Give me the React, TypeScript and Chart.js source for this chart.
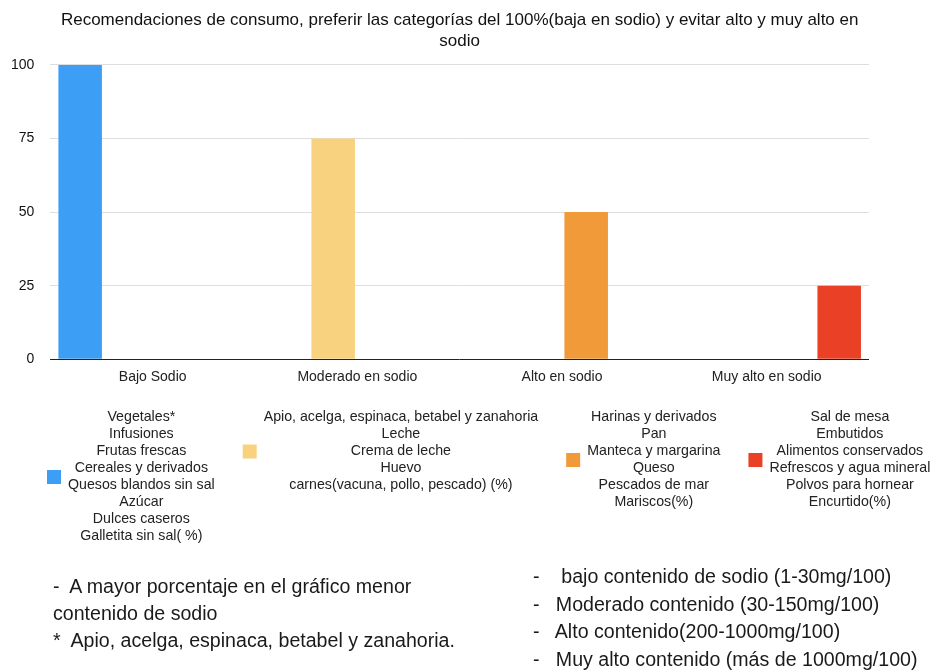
import React, { useEffect, useRef } from 'react';
import { Chart, registerables } from 'chart.js';

Chart.register(...registerables);

const FONT = '"Liberation Sans", Arial, Helvetica, sans-serif';

const TITLE = [
  'Recomendaciones de consumo, preferir las categorías del 100%(baja en sodio) y evitar alto y muy alto en',
  'sodio',
];
const CATEGORIES = ['Bajo Sodio', 'Moderado en sodio', 'Alto en sodio', 'Muy alto en sodio'];
const Y_TICKS = [0, 25, 50, 75, 100];

const BAJO = [100, null, null, null];
const MODERADO = [null, 75, null, null];
const ALTO = [null, null, 50, null];
const MUY_ALTO = [null, null, null, 25];

const LEGEND_BAJO = [
  'Vegetales*',
  'Infusiones',
  'Frutas frescas',
  'Cereales y derivados',
  'Quesos blandos sin sal',
  'Azúcar',
  'Dulces caseros',
  'Galletita sin sal( %)',
];
const LEGEND_MODERADO = [
  'Apio, acelga, espinaca, betabel y zanahoria',
  'Leche',
  'Crema de leche',
  'Huevo',
  'carnes(vacuna, pollo, pescado) (%)',
];
const LEGEND_ALTO = [
  'Harinas y derivados',
  'Pan',
  'Manteca y margarina',
  'Queso',
  'Pescados de mar',
  'Mariscos(%)',
];
const LEGEND_MUY_ALTO = [
  'Sal de mesa',
  'Embutidos',
  'Alimentos conservados',
  'Refrescos y agua mineral',
  'Polvos para hornear',
  'Encurtido(%)',
];

const NOTES_LEFT = [
  '-  A mayor porcentaje en el gráfico menor',
  'contenido de sodio',
  '*  Apio, acelga, espinaca, betabel y zanahoria.',
];
const NOTES_RIGHT = [
  '-    bajo contenido de sodio (1-30mg/100)',
  '-   Moderado contenido (30-150mg/100)',
  '-   Alto contenido(200-1000mg/100)',
  '-   Muy alto contenido (más de 1000mg/100)',
];

const COLORS = ['#3d9ef6', '#f8d27f', '#f09a3a', '#ea4026'];

const multiLineLegend = {
  id: 'multiLineLegend',
  afterDraw(chart: any, _args: any, opts: any) {
    const ctx = chart.ctx;
    const xScale = chart.scales.x;
    ctx.save();
    ctx.font = `${opts.fontSize}px ${FONT}`;
    const top = xScale.bottom + opts.offsetTop;
    let x = opts.left;
    chart.data.datasets.forEach((ds: any) => {
      const lines: string[] = ds.legendLines;
      const w = Math.max(...lines.map((l) => ctx.measureText(l).width));
      const h = lines.length * opts.lineHeight;
      const cy = top + h / 2;
      ctx.fillStyle = ds.backgroundColor;
      ctx.fillRect(x, cy - opts.boxSize / 2, opts.boxSize, opts.boxSize);
      const tx = x + opts.boxSize + opts.gap + w / 2;
      ctx.fillStyle = opts.color;
      ctx.textAlign = 'center';
      ctx.textBaseline = 'middle';
      lines.forEach((l, i) => ctx.fillText(l, tx, top + opts.lineHeight * (i + 0.5)));
      x = x + opts.boxSize + opts.gap + w + opts.itemGap;
    });
    ctx.restore();
  },
};

export default function App() {
  const ref = useRef<HTMLCanvasElement | null>(null);

  useEffect(() => {
    if (!ref.current) return;
    const mk = (label: string, data: any[], color: string, lines: string[]) => ({
      label,
      data,
      backgroundColor: color,
      borderWidth: 0,
      legendLines: lines,
      barPercentage: 0.9,
      categoryPercentage: 0.945,
    });
    const chart = new Chart(ref.current, {
      type: 'bar',
      data: {
        labels: CATEGORIES,
        datasets: [
          mk('Bajo', BAJO, COLORS[0], LEGEND_BAJO),
          mk('Moderado', MODERADO, COLORS[1], LEGEND_MODERADO),
          mk('Alto', ALTO, COLORS[2], LEGEND_ALTO),
          mk('Muy alto', MUY_ALTO, COLORS[3], LEGEND_MUY_ALTO),
        ] as any,
      },
      options: {
        animation: false,
        responsive: false,
        devicePixelRatio: 1,
        layout: { padding: { left: -5, right: 61, top: 0, bottom: 276 } },
        plugins: {
          legend: { display: false },
          tooltip: { enabled: false },
          title: {
            display: true,
            fullSize: false,
            text: TITLE,
            color: '#111',
            font: { family: FONT, size: 17, weight: 'normal', lineHeight: 1.235 },
            padding: { top: 10, bottom: 13 },
          },
          multiLineLegend: {
            left: 47,
            offsetTop: 13,
            fontSize: 14.2,
            lineHeight: 17,
            boxSize: 14,
            gap: 7,
            itemGap: 28,
            color: '#222',
          },
        } as any,
        scales: {
          x: {
            grid: { display: false, drawTicks: false },
            border: { display: false },
            ticks: { color: '#222', font: { family: FONT, size: 14 }, padding: 10 },
          },
          y: {
            min: 0,
            max: 100,
            afterBuildTicks: (axis: any) => {
              axis.ticks = Y_TICKS.map((v) => ({ value: v }));
            },
            grid: {
              drawTicks: false,
              color: (c: any) => (c.tick && c.tick.value === 0 ? '#222' : '#dedede'),
              lineWidth: 1,
            },
            border: { display: false },
            ticks: { color: '#111', font: { family: FONT, size: 14 }, padding: 16 },
          },
        },
      },
      plugins: [multiLineLegend],
    });
    return () => chart.destroy();
  }, []);

  const noteStyle: React.CSSProperties = {
    position: 'absolute',
    fontFamily: FONT,
    fontSize: 19.6,
    lineHeight: '27px',
    color: '#1a1a1a',
    whiteSpace: 'pre',
  };

  return (
    <div style={{ position: 'absolute', left: 0, top: 0, width: 930, height: 672, background: '#fff', overflow: 'hidden' }}>
      <canvas ref={ref} width={930} height={672} style={{ display: 'block', width: 930, height: 672 }} />
      <div style={{ ...noteStyle, left: 53, top: 573 }}>
        {NOTES_LEFT.map((t, i) => (
          <div key={i}>{t}</div>
        ))}
      </div>
      <div style={{ ...noteStyle, left: 533, top: 563, lineHeight: '27.7px' }}>
        {NOTES_RIGHT.map((t, i) => (
          <div key={i}>{t}</div>
        ))}
      </div>
    </div>
  );
}
